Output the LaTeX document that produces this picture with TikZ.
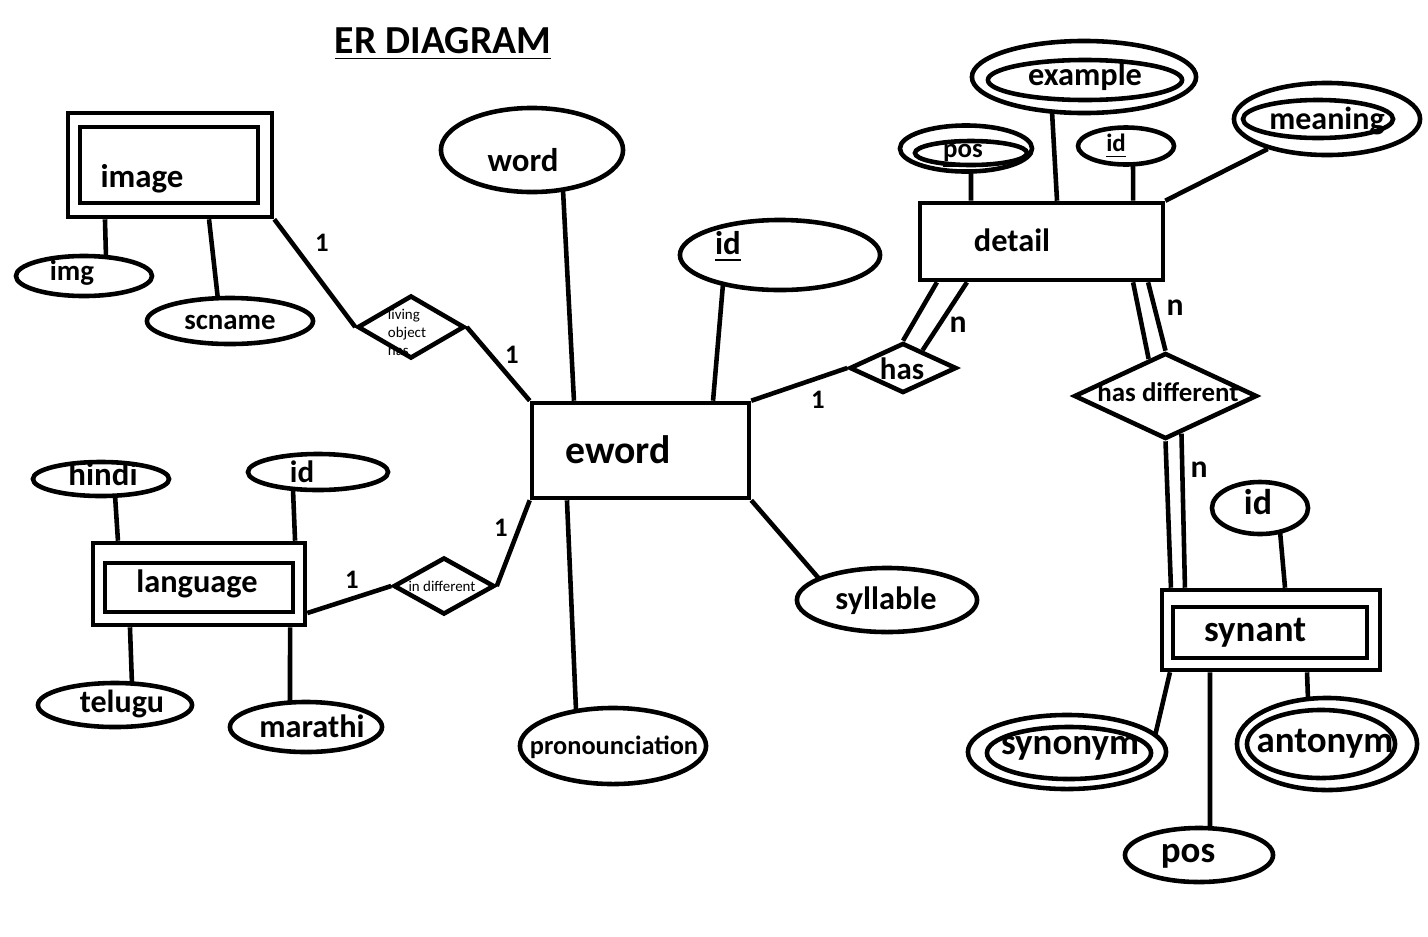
\documentclass[tikz,border=0pt]{standalone}
\usepackage{fontspec}
\setmainfont{Carlito}
\usetikzlibrary{shapes.geometric,backgrounds,calc}
\begin{document}
\begin{tikzpicture}[x=0.01cm,y=-0.01cm,line width=1.3pt,
  ell/.style 2 args={draw,ellipse,fill=white,inner sep=0pt,minimum width={#1*0.02cm},minimum height={#2*0.02cm}},
  box/.style 2 args={draw,rectangle,fill=white,inner sep=0pt,minimum width={#1*0.01cm},minimum height={#2*0.01cm}},
  rel/.style 2 args={draw,diamond,fill=white,inner sep=0pt,minimum width={#1*0.01cm},minimum height={#2*0.01cm}},
  txt/.style={inner sep=0pt,font=\bfseries\fontsize{#1}{#1}\selectfont},
  small/.style={inner sep=0pt,font=\fontsize{4.25}{5.1}\selectfont},
  card/.style={inner sep=0pt,font=\bfseries\fontsize{7.6}{8}\selectfont},
  cardn/.style={inner sep=0pt,font=\bfseries\fontsize{9}{9}\selectfont},
  conn/.style={line width=1.3pt}]
\useasboundingbox (0,0) rectangle (1428,936);

% title
\node[txt=11.3] (title) at (443,44) {\underline{ER DIAGRAM}};

% image
\node[box={204}{104}] (image) at (170,165) {};
\node[box={178}{76}] (imageIn) at (169,165) {};
\node[txt=9.35] (tImage) at (142,179) {image};
\node[ell={68}{20}] (img) at (84,276) {};
\node[txt=8.2] (tImg) at (72,273) {img};
\node[ell={83}{23}] (scname) at (230,321) {};
\node[txt=8.2] (tScname) at (230,322) {scname};

% eword
\node[ell={91}{42}] (word) at (532,150) {};
\node[txt=9.35] (tWord) at (523,160) {word};
\node[ell={100}{35}] (idw) at (780,255) {};
\node[txt=9.35] (tIdw) at (728,247) {\underline{id}};
\node[box={217}{95}] (eword) at (640.5,450.5) {};
\node[txt=11.3] (tEword) at (618,450) {eword};
\node[ell={90}{32}] (syll) at (887,600) {};
\node[txt=9.2] (tSyll) at (886,601) {syllable};
\node[ell={93}{38}] (pron) at (613,746) {};
\node[txt=7.5] (tPron) at (614,747) {pronounciation};

% relationships left
\node[rel={107}{63}] (living) at (411,327) {};
\node[small,align=left] (tLiving) at (407,332) {living\\object\\has};
\node[rel={101}{57}] (indiff) at (444,586) {};
\node[small] (tIndiff) at (442,586) {in different};

% language
\node[box={212}{82}] (language) at (199,584) {};
\node[box={188}{49}] (languageIn) at (199,587.5) {};
\node[txt=9.2] (tLanguage) at (197,584) {language};
\node[ell={68}{17}] (hindi) at (101,479) {};
\node[txt=9.35] (tHindi) at (103,474) {hindi};
\node[ell={70}{18}] (lid) at (318,472) {};
\node[txt=8.8] (tLid) at (302,472) {id};
\node[ell={77}{22}] (telugu) at (115,705) {};
\node[txt=9.1] (tTelugu) at (122,704) {telugu};
\node[ell={76}{25}] (marathi) at (306,727) {};
\node[txt=9.2] (tMarathi) at (312,726) {marathi};

% has / detail
\node[rel={107}{50}] (has) at (903,368) {};
\node[txt=8.8] (tHas) at (902,369) {has};
\node[box={243}{77}] (detail) at (1041.5,241.5) {};
\node[txt=9.2] (tDetail) at (1012,240) {detail};
\node[ell={66}{23}] (dpos) at (966,148.5) {};
\node[ell={56}{12}] (dposIn) at (971,153) {};
\node[txt=7.65] (tDpos) at (963,156) {\underline{pos}};
\node[ell={112}{36}] (example) at (1084,77) {};
\node[ell={97}{20}] (exampleIn) at (1085,80) {};
\node[txt=9.2] (tExample) at (1085,77) {example};
\node[ell={48}{18.5}] (did) at (1126,146) {};
\node[txt=7.1] (tDid) at (1116,146) {\underline{id}};
\node[ell={93}{36}] (meaning) at (1327,119) {};
\node[ell={75}{19}] (meaningIn) at (1318,119) {};
\node[txt=9.1] (tMeaning) at (1327,121) {meaning};

% has different / synant
\node[rel={183}{86}] (hasdiff) at (1165.5,396) {};
\node[txt=7.65] (tHasdiff) at (1168,392) {has different};
\node[box={218}{80}] (synant) at (1271,630) {};
\node[box={194}{51}] (synantIn) at (1270,632.5) {};
\node[txt=10.5] (tSynant) at (1255,633) {synant};
\node[ell={48}{26}] (sid) at (1260,508) {};
\node[txt=10.2] (tSid) at (1258,502) {id};
\node[ell={99}{37}] (synonym) at (1067,752) {};
\node[ell={82}{26}] (synonymIn) at (1069,753) {};
\node[txt=10.5] (tSynonym) at (1070,748) {synonym};
\node[ell={90}{46}] (antonym) at (1327,744) {};
\node[ell={74}{34}] (antonymIn) at (1321,744) {};
\node[txt=10.5] (tAntonym) at (1325,744) {antonym};
\node[ell={74}{27}] (spos) at (1199,855) {};
\node[txt=10.5] (tSpos) at (1188,856) {pos};

% cardinalities
\node[card] (c1) at (322,243) {1};
\node[card] (c2) at (512,355) {1};
\node[card] (c3) at (352,580) {1};
\node[card] (c4) at (501,528) {1};
\node[card] (c5) at (818,400) {1};
\node[cardn] (n1) at (958,325) {n};
\node[cardn] (n2) at (1175,308) {n};
\node[cardn] (n3) at (1199,470) {n};

\begin{scope}[on background layer]
\begin{scope}[line width=1.3pt]
% image attributes
\draw[conn] ([xshift=-0.65cm]image.south) -- ([xshift=0.22cm,yshift=-0.04cm]img.north);
\draw[conn] ([xshift=0.39cm]image.south) -- ([xshift=-0.12cm,yshift=-0.04cm]scname.north);
% eword attributes
\draw[conn] ([xshift=0.31cm,yshift=0.04cm]word.south) -- ([xshift=-0.665cm]eword.north);
\draw[conn] ([xshift=0.725cm]eword.north) -- ([xshift=-0.57cm,yshift=0.08cm]idw.south);
\draw[conn] (eword.south east) -- ([xshift=-0.67cm,yshift=-0.14cm]syll.north);
\draw[conn] ([xshift=-0.735cm]eword.south) -- ([xshift=-0.37cm,yshift=-0.04cm]pron.north);
% relationships
\draw[conn] (image.south east) -- (living.west);
\draw[conn] (living.east) -- (eword.north west);
\draw[conn] ([yshift=-0.29cm]language.east) -- (indiff.west);
\draw[conn] (indiff.east) -- (eword.south west);
\draw[conn] (eword.north east) -- (has.west);
\draw[conn] (has.north) -- ([xshift=-1.045cm]detail.south);
\draw[conn] ($(has.north)!0.35!(has.east)$) -- ([xshift=-0.745cm]detail.south);
\draw[conn] ([xshift=0.915cm]detail.south) -- ($(hasdiff.west)!0.82!(hasdiff.north)$);
\draw[conn] ([xshift=1.065cm]detail.south) -- (hasdiff.north);
\draw[conn] (hasdiff.south) -- ([xshift=-1.0cm]synant.north);
\draw[conn] ($(hasdiff.south)!0.17!(hasdiff.east)$) -- ([xshift=-0.86cm]synant.north);
% language attributes
\draw[conn] ([xshift=0.14cm,yshift=0.03cm]hindi.south) -- ([xshift=-0.81cm]language.north);
\draw[conn] ([xshift=-0.25cm,yshift=0.03cm]lid.south) -- ([xshift=0.96cm]language.north);
\draw[conn] ([xshift=-0.69cm]language.south) -- ([xshift=0.17cm,yshift=-0.04cm]telugu.north);
\draw[conn] ([xshift=0.91cm]language.south) -- ([xshift=-0.16cm,yshift=-0.04cm]marathi.north);
% synant attributes
\draw[conn] ([xshift=0.14cm]synant.north) -- ([xshift=0.2cm,yshift=0.05cm]sid.south);
\draw[conn] ([xshift=-1.01cm]synant.south) -- ([xshift=0.88cm,yshift=-0.23cm]synonym.north);
\draw[conn] ([xshift=0.36cm]synant.south) -- ([xshift=-0.19cm,yshift=-0.04cm]antonym.north);
\draw[conn] ([xshift=-0.61cm]synant.south) -- ([xshift=0.11cm,yshift=-0.04cm]spos.north);
% detail attributes
\draw[conn] ([xshift=-0.705cm]detail.north) -- ([xshift=0.05cm,yshift=0.04cm]dpos.south);
\draw[conn] ([xshift=0.155cm]detail.north) -- ([xshift=-0.32cm,yshift=0.04cm]example.south);
\draw[conn] ([xshift=0.915cm]detail.north) -- ([xshift=0.07cm,yshift=0.04cm]did.south);
\draw[conn] (detail.north east) -- (meaning);
\end{scope}
\end{scope}
\end{tikzpicture}
\end{document}
